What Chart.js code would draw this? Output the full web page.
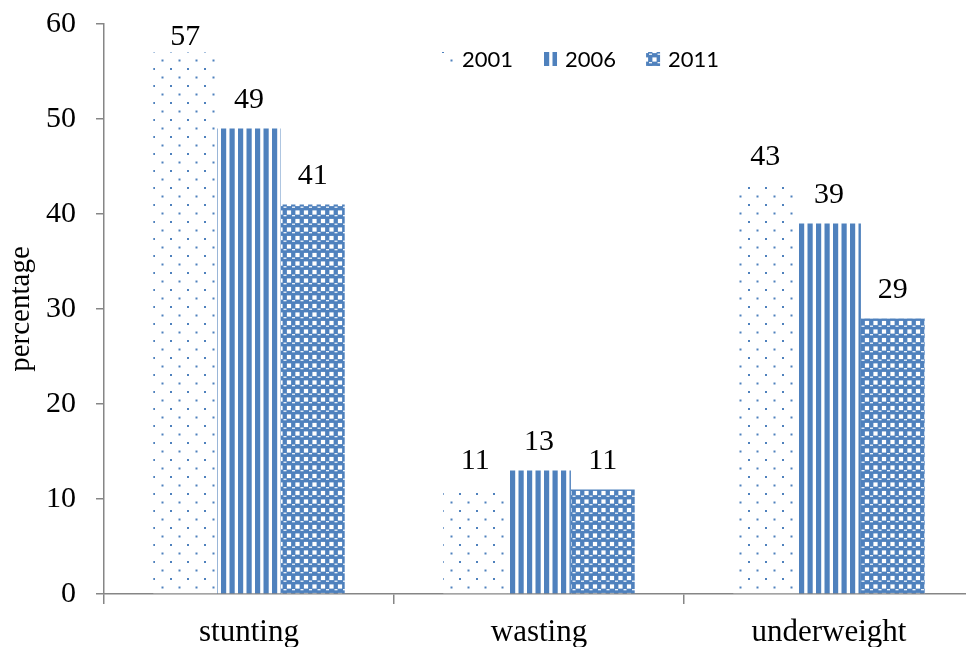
<!DOCTYPE html>
<html>
<head>
<meta charset="utf-8">
<title>Child undernutrition 2001–2011</title>
<script src="https://cdn.jsdelivr.net/npm/chart.js@4/dist/chart.umd.min.js"></script>
<style>
  html, body { margin: 0; padding: 0; background: #fff; overflow: hidden; }
  #wrap { position: absolute; left: 0; top: 0; width: 980px; height: 647px; }
</style>
</head>
<body>
<div id="wrap"><canvas id="chart" width="980" height="647"></canvas></div>
<script>
// Indicators and survey years
const categories = ['stunting', 'wasting', 'underweight'];
const years = ['2001', '2006', '2011'];
const values2001 = [57, 11, 43];
const values2006 = [49, 13, 39];
const values2011 = [41, 11, 29];
const yTicks = [0, 10, 20, 30, 40, 50, 60];

const BLUE = '#4f81bd';
const AXIS = '#868686';
const SERIF = '"Liberation Serif", "Times New Roman", serif';

function makeTile(size, draw) {
  const c = document.createElement('canvas');
  c.width = size; c.height = size;
  const g = c.getContext('2d');
  g.fillStyle = '#ffffff';
  g.fillRect(0, 0, size, size);
  draw(g);
  return document.getElementById('chart').getContext('2d').createPattern(c, 'repeat');
}

// Sparse staggered dots
const dotPattern = makeTile(17, g => {
  g.fillStyle = BLUE;
  g.fillRect(0, 0, 2, 2);
  g.fillRect(8.5, 8.5, 2, 2);
});

// Vertical stripes
const stripePattern = makeTile(17, g => {
  g.fillStyle = BLUE;
  g.fillRect(0, 0, 5.2, 17);
  g.fillRect(8.5, 0, 5.2, 17);
});

// Sphere / checker pattern: blue cells, white squares at the cell corners, a highlight dash
const spherePattern = makeTile(17, g => {
  g.fillStyle = BLUE;
  g.fillRect(0, 0, 17, 17);
  g.fillStyle = '#ffffff';
  for (let i = 0; i <= 2; i++) {
    for (let j = 0; j <= 2; j++) {
      g.fillRect(i * 8.5 - 2.1, j * 8.5 - 2.1, 4.2, 4.2);
    }
  }
  for (let i = 0; i < 2; i++) {
    for (let j = 0; j < 2; j++) {
      g.fillRect(i * 8.5 + 3, j * 8.5 + 2.6, 3, 1.2);
    }
  }
});

const patterns = [dotPattern, stripePattern, spherePattern];

// Value labels above each bar
const valueLabels = {
  id: 'valueLabels',
  afterDatasetsDraw(chart) {
    const ctx = chart.ctx;
    ctx.save();
    ctx.font = '30px ' + SERIF;
    ctx.fillStyle = '#000';
    ctx.textAlign = 'center';
    ctx.textBaseline = 'middle';
    chart.data.datasets.forEach((ds, di) => {
      chart.getDatasetMeta(di).data.forEach((bar, i) => {
        const y = Math.max(bar.y - 28, chart.chartArea.top + 13);
        ctx.fillText(String(ds.data[i]), bar.x, y);
      });
    });
    ctx.restore();
  }
};

// Legend drawn inside the plot area
const insideLegend = {
  id: 'insideLegend',
  afterDraw(chart) {
    const ctx = chart.ctx;
    ctx.save();
    ctx.font = '22px Lato, "Open Sans", sans-serif';
    ctx.textBaseline = 'middle';
    ctx.textAlign = 'left';
    let x = 440;
    const cy = 59;
    chart.data.datasets.forEach(ds => {
      ctx.fillStyle = ds.backgroundColor;
      ctx.fillRect(x, cy - 7, 14, 14);
      x += 14 + 8;
      ctx.fillStyle = '#000';
      ctx.fillText(ds.label, x, cy + 1);
      x += ctx.measureText(ds.label).width + 30;
    });
    ctx.restore();
  }
};

new Chart(document.getElementById('chart'), {
  type: 'bar',
  data: {
    labels: categories,
    datasets: [
      { label: years[0], data: values2001, backgroundColor: patterns[0] },
      { label: years[1], data: values2006, backgroundColor: patterns[1] },
      { label: years[2], data: values2011, backgroundColor: patterns[2] }
    ]
  },
  options: {
    responsive: false,
    animation: false,
    devicePixelRatio: 1,
    layout: { padding: { top: 24, right: 6, left: 0, bottom: 0 } },
    datasets: { bar: { categoryPercentage: 0.66, barPercentage: 1.0, borderWidth: 0 } },
    plugins: {
      legend: { display: false },
      tooltip: { enabled: false }
    },
    scales: {
      x: {
        offset: true,
        grid: {
          display: true, drawOnChartArea: false, drawTicks: true,
          tickLength: 10, color: AXIS, lineWidth: 1.5, offset: true
        },
        border: { display: true, color: AXIS, width: 1.5 },
        ticks: { color: '#000', font: { family: SERIF, size: 31 }, padding: 10 },
        afterFit(s) { s.height = 53; s.paddingLeft = 0; s.paddingRight = 0; }
      },
      y: {
        min: 0, max: 60,
        afterBuildTicks(s) { s.ticks = yTicks.map(v => ({ value: v })); },
        grid: {
          display: true, drawOnChartArea: false, drawTicks: true,
          tickLength: 8, color: AXIS, lineWidth: 1.5
        },
        border: { display: true, color: AXIS, width: 1.5 },
        ticks: { color: '#000', font: { family: SERIF, size: 30 }, padding: 20 },
        title: {
          display: true, text: 'percentage', color: '#000',
          font: { family: SERIF, size: 29 }, padding: { top: 4, bottom: 4 }
        },
        afterFit(s) { s.width = 104; s.paddingTop = 0; s.paddingBottom = 0; }
      }
    }
  },
  plugins: [valueLabels, insideLegend]
});
</script>
</body>
</html>
